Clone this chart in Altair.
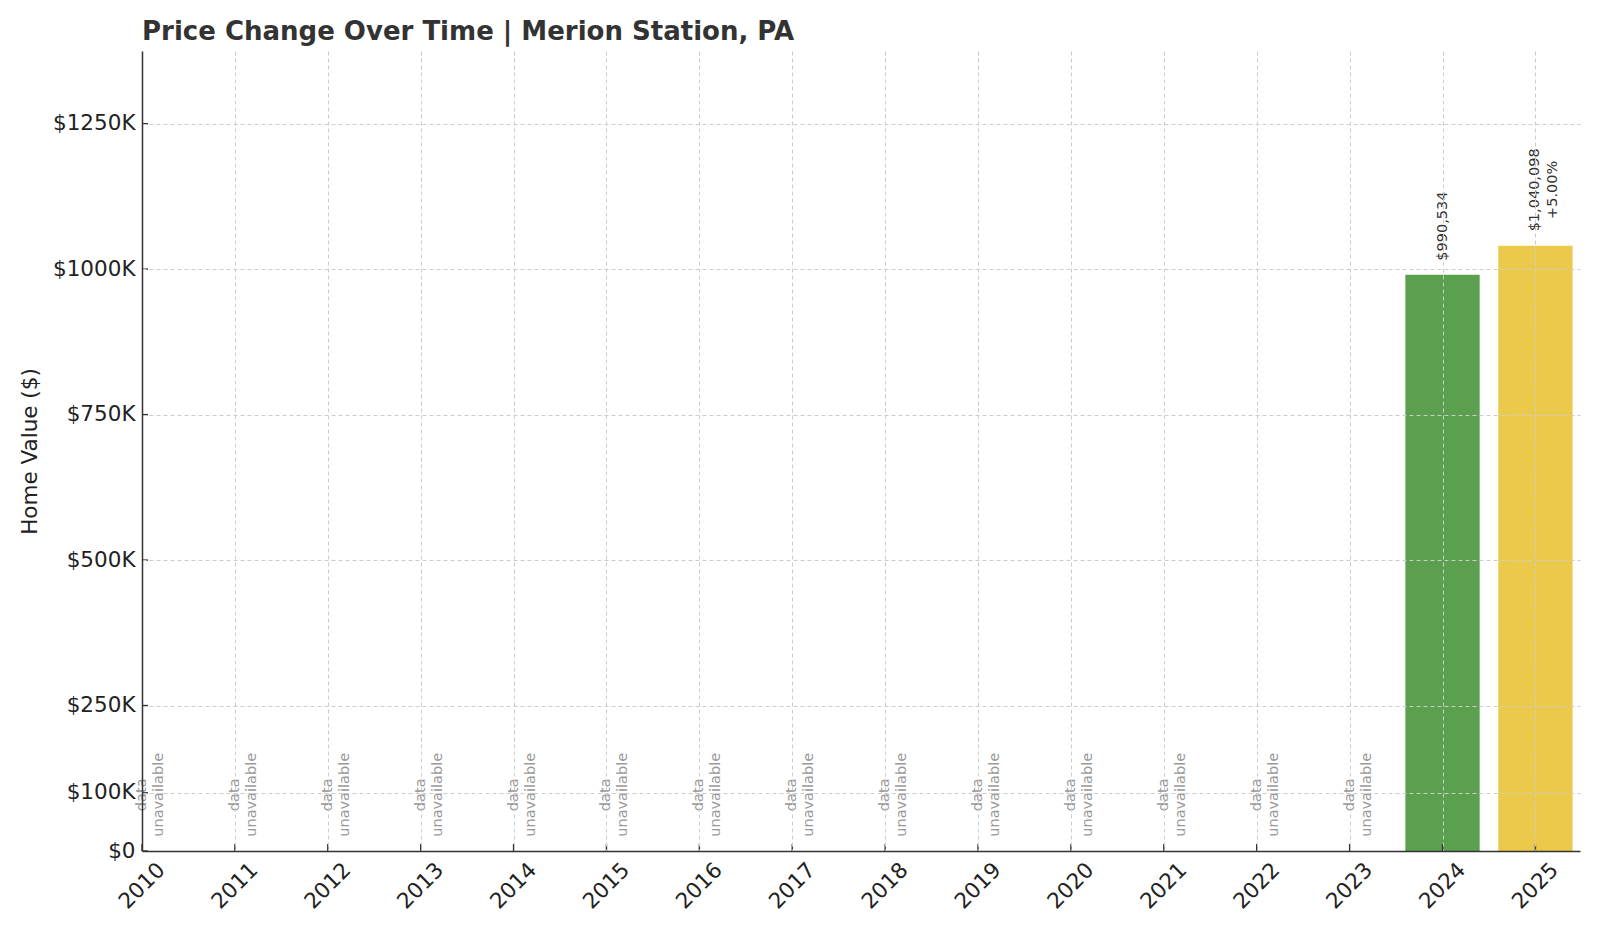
import altair as alt
import pandas as pd

years = [2010, 2011, 2012, 2013, 2014, 2015, 2016, 2017,
         2018, 2019, 2020, 2021, 2022, 2023, 2024, 2025]
home_values = [None, None, None, None, None, None, None, None,
               None, None, None, None, None, None, 990534, 1040098]
y_ticks = [0, 100000, 250000, 500000, 750000, 1000000, 1250000]
title_text = "Price Change Over Time | Merion Station, PA"
y_title = "Home Value ($)"
na_text = "data\nunavailable"
group_names = ["prior", "latest"]
bar_colors = ["#5BA04F", "#EBC94A"]

last_year = max(y for y, v in zip(years, home_values) if v is not None)
rows = []
prev = None
for yr, v in zip(years, home_values):
    if v is None:
        rows.append({"year": yr, "value": None, "label": na_text, "kind": "na",
                     "grp": "prior", "anchor": 100000})
        continue
    if prev is None:
        lab, kind = f"${v:,.0f}", "first"
    else:
        pct = (v / prev - 1) * 100
        lab, kind = f"${v:,.0f}\n{pct:+.2f}%", "chg"
    rows.append({"year": yr, "value": v, "label": lab, "kind": kind,
                 "grp": "latest" if yr == last_year else "prior", "anchor": v})
    prev = v
df = pd.DataFrame(rows)
tick_df = pd.DataFrame({"tick": y_ticks})
year_df = pd.DataFrame({"year": years})

FONT = "DejaVu Sans"
W, H = 1438, 800
FS = 21.5
xscale = alt.Scale(domain=[2010, 2025.48], nice=False, zero=False)
yscale = alt.Scale(domain=[0, 1375000], nice=False, zero=True)

xaxis = alt.Axis(values=years, format="d", labelAngle=315,
                 labelAlign="center", labelBaseline="middle",
                 labelPadding=35, ticks=False, labelFontSize=FS,
                 labelColor="#222222", labelFont=FONT,
                 grid=True, gridDash=[4, 3], gridColor="#cccccc",
                 gridWidth=1, domainColor="#333333", domainWidth=1.5,
                 zindex=1, labelOverlap=False, title=None)
yaxis = alt.Axis(values=y_ticks,
                 labelExpr="datum.value == 0 ? '$0' : '$' + datum.value/1000 + 'K'",
                 ticks=False, labelPadding=7, labelFontSize=FS,
                 labelColor="#222222", labelFont=FONT,
                 title=y_title,
                 titleFont=FONT, titleFontSize=FS, titleFontWeight="normal",
                 titleColor="#222222", titleAngle=270,
                 titleX=-112, titleY=H / 2, titleAlign="center",
                 titleBaseline="middle",
                 grid=True, gridDash=[4, 3], gridColor="#cccccc",
                 gridWidth=1, domainColor="#333333", domainWidth=1.5,
                 zindex=1, labelOverlap=False)

def X(field):
    return alt.X(field, scale=xscale, axis=xaxis, title=None)

def Y(field):
    return alt.Y(field, scale=yscale, axis=yaxis, title=y_title)

base = alt.Chart(df)

bars = base.transform_filter("datum.kind != 'na'").transform_calculate(
    x0="datum.year - 0.4", x1="datum.year + 0.4"
).mark_bar().encode(
    x=X("x0:Q"),
    x2="x1:Q",
    y=Y("value:Q"),
    y2=alt.datum(0),
    color=alt.Color("grp:N", scale=alt.Scale(domain=group_names, range=bar_colors),
                    legend=None),
)

first_labels = base.transform_filter("datum.kind == 'first'").mark_text(
    angle=270, align="left", baseline="middle", dx=14, fontSize=14.5,
    font=FONT, color="#333333"
).encode(x=X("year:Q"), y=Y("anchor:Q"), text="label:N")

chg_labels = base.transform_filter("datum.kind == 'chg'").mark_text(
    angle=270, align="center", baseline="middle", dx=56, fontSize=14.5,
    font=FONT, color="#333333", lineBreak="\n", lineHeight=17.5
).encode(x=X("year:Q"), y=Y("anchor:Q"), text="label:N")

na_labels = base.transform_filter("datum.kind == 'na'").mark_text(
    angle=270, align="center", baseline="middle", dx=-2, fontSize=14.5,
    font=FONT, color="#999999", lineBreak="\n", lineHeight=17
).encode(x=X("year:Q"), y=Y("anchor:Q"), text="label:N")

xticks = alt.Chart(year_df).mark_rule(color="#333333", strokeWidth=1.4).encode(
    x=X("year:Q"),
    y=alt.value(H), y2=alt.value(H - 7),
)
yticks = alt.Chart(tick_df).mark_rule(color="#333333", strokeWidth=1.4).encode(
    y=Y("tick:Q"),
    x=alt.value(0), x2=alt.value(6),
)

chart = alt.layer(bars, first_labels, chg_labels, na_labels, xticks, yticks).properties(
    width=W, height=H,
    title=alt.TitleParams(text=title_text, anchor="start", frame="group",
                          fontSize=26, fontWeight="bold", font=FONT,
                          color="#333333", offset=6),
    padding={"left": 134, "top": 43, "right": 10, "bottom": 72},
    autosize=alt.AutoSizeParams(type="none"),
).configure_view(stroke=None)

chart.save("out.html", embed_options={"renderer": "svg", "actions": False})
